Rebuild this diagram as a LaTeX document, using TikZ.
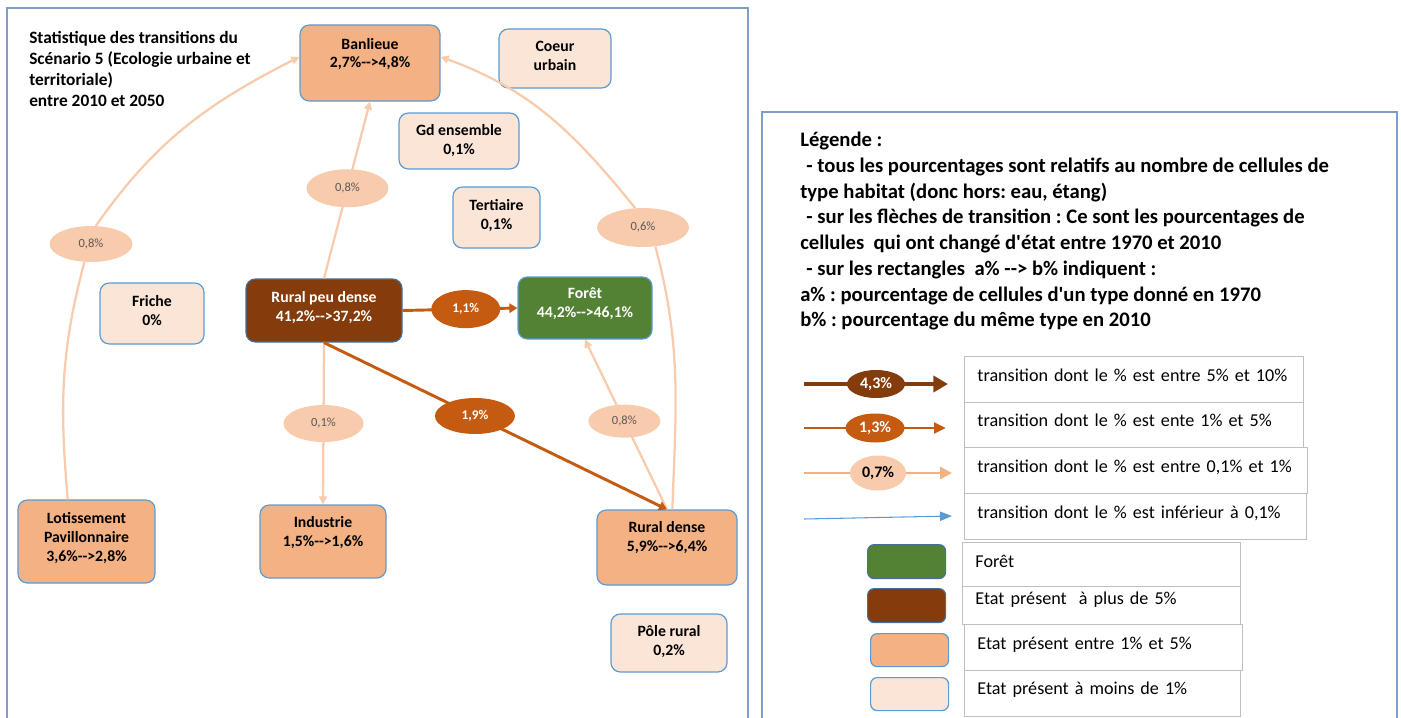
\documentclass[tikz,border=0pt]{standalone}
\usepackage{fontspec}
\setmainfont{Carlito}[Ligatures=TeXOff]
\usetikzlibrary{shapes.geometric,arrows.meta}
\frenchspacing

\definecolor{brownD}{HTML}{843C0C}
\definecolor{orangeD}{HTML}{C55A11}
\definecolor{orangeL}{HTML}{F4B183}
\definecolor{orangeXL}{HTML}{FBE5D6}
\definecolor{peach}{HTML}{F8CBAD}
\definecolor{greenF}{HTML}{548235}
\definecolor{edgeB}{HTML}{5B9BD5}
\definecolor{edgeD}{HTML}{41719C}
\definecolor{frameB}{HTML}{7F9DC6}
\definecolor{rowG}{HTML}{BFBFBF}

\tikzset{
  statebox/.style={rectangle, rounded corners=7pt, draw=edgeB, line width=0.9pt, inner sep=0pt},
  statetxt/.style={font=\bfseries\fontsize{11.8}{13.9}\selectfont, align=center, inner sep=0pt},
  pct/.style={ellipse, inner sep=0pt, fill=peach, text=black!65, font=\fontsize{9.4}{10}\selectfont},
  pctdark/.style={ellipse, inner sep=0pt, fill=orangeD, text=white, font=\bfseries\fontsize{10}{11}\selectfont},
  lightlink/.style={draw=peach, line width=1.7pt},
  lightarr/.style={lightlink, -{Triangle[length=6pt,width=6pt]}},
  darkarr/.style={draw=orangeD, line width=2.2pt, -{Triangle[length=6pt,width=7pt]}},
  rowbox/.style={draw=rowG, line width=0.7pt, anchor=north west, inner xsep=9.75pt, inner ysep=0pt, align=left, font=\fontsize{13.6}{15}\selectfont},
  swatch/.style={rectangle, rounded corners=5pt, line width=0.9pt, anchor=north west, inner sep=0pt, minimum width=58.5pt},
}

\begin{document}
\begin{tikzpicture}[x=0.75pt,y=0.75pt]
\useasboundingbox (0,0) rectangle (1401,-717);
\draw[frameB, line width=1pt] (7,-720) |- (748,-8) -- (748,-720);
\draw[frameB, line width=1pt] (762,-720) |- (1397,-112) -- (1397,-720);

\node[statetxt, anchor=north west, align=left, font=\bfseries\fontsize{13}{15.75}\selectfont] (title) at (29,-31)
  {Statistique des transitions du\\Scénario 5 (Ecologie urbaine et\\territoriale)\\entre 2010 et 2050};

\node[statebox, fill=orangeL, minimum width=105pt, minimum height=57pt] (ban) at (370,-63) {};
\node[statetxt] (banT) at (370,-54) {Banlieue\\2,7\%-->4,8\%};
\node[statebox, fill=orangeXL, minimum width=84pt, minimum height=44.25pt] (coeur) at (555,-58.5) {};
\node[statetxt] (coeurT) at (555,-56) {Coeur\\urbain};
\node[statebox, fill=orangeXL, minimum width=90pt, minimum height=42pt] (gd) at (459,-141) {};
\node[statetxt] (gdT) at (459,-140.5) {Gd ensemble\\0,1\%};
\node[statebox, fill=orangeXL, minimum width=65.25pt, minimum height=45.75pt] (tert) at (496.5,-217.5) {};
\node[statetxt] (tertT) at (496.5,-215.5) {Tertiaire\\0,1\%};
\node[statebox, fill=orangeXL, minimum width=78pt, minimum height=45.75pt] (friche) at (152,-313.5) {};
\node[statetxt] (fricheT) at (152,-310.5) {Friche\\0\%};
\node[statebox, fill=brownD, draw=edgeD, minimum width=117pt, minimum height=47.25pt] (rpd) at (324,-310.5) {};
\node[statetxt, text=white] (rpdT) at (324,-307.5) {Rural peu dense\\41,2\%-->37,2\%};
\node[statebox, fill=greenF, minimum width=100.5pt, minimum height=46.5pt] (foret) at (585,-308) {};
\node[statetxt, text=white] (foretT) at (585,-303.5) {Forêt\\44,2\%-->46,1\%};
\node[statebox, fill=orangeL, minimum width=102.75pt, minimum height=62.25pt] (lot) at (86.5,-541.5) {};
\node[statetxt] (lotT) at (86.5,-538) {Lotissement\\Pavillonnaire\\3,6\%-->2,8\%};
\node[statebox, fill=orangeL, minimum width=94.5pt, minimum height=54.75pt] (ind) at (323,-541.5) {};
\node[statetxt] (indT) at (323,-532.5) {Industrie\\1,5\%-->1,6\%};
\node[statebox, fill=orangeL, minimum width=105pt, minimum height=56.25pt] (rd) at (667,-547.5) {};
\node[statetxt] (rdT) at (667,-537.5) {Rural dense\\5,9\%-->6,4\%};
\node[statebox, fill=orangeXL, minimum width=87pt, minimum height=43.5pt] (pole) at (669,-643) {};
\node[statetxt] (poleT) at (669,-641.5) {Pôle rural\\0,2\%};

\node[pct, minimum width=62.25pt, minimum height=27pt] (eLot) at (91,-244) {0,8\%};
\draw[lightlink] (lot.114) to[out=95,in=255] (eLot.250);
\draw[lightarr] (eLot.75) to[out=55,in=207] (ban.175);

\node[pct, minimum width=69pt, minimum height=29.25pt] (eRd) at (643,-227.5) {0,6\%};
\draw[lightlink] (rd.82) to[out=88,in=-75] (eRd.-57);
\draw[lightarr] (eRd.112) to[out=129,in=-20] (ban.5);

\draw[lightarr] (rpd.north) -- node[pct, pos=0.51, minimum width=61.5pt, minimum height=28.5pt] (eBan) {0,8\%} (ban.south);
\draw[lightarr] (rpd.south) -- node[pct, pos=0.5, minimum width=60pt, minimum height=27.75pt] (eInd) {0,1\%} (ind.north);
\draw[lightarr] (rd.north) -- node[pct, pos=0.52, minimum width=54pt, minimum height=24.75pt] (eFor) {0,8\%} (foret.south);
\draw[darkarr] (rpd.east) -- node[pctdark, pos=0.55, minimum width=51.75pt, minimum height=28.5pt] (eRpd) {1,1\%} (foret.west);
\draw[darkarr] (rpd.south) -- node[pctdark, pos=0.44, minimum width=60pt, minimum height=27pt] (eDen) {1,9\%} (rd.north);

\node[anchor=north west, align=left, inner sep=0pt, font=\bfseries\fontsize{15.5}{19.3}\selectfont] (leg) at (800,-132)
  {Légende :\\
   \hspace*{.3em}- tous les pourcentages sont relatifs au nombre de cellules de\\
   type habitat (donc hors: eau, étang)\\
   \hspace*{.3em}- sur les flèches de transition : Ce sont les pourcentages de\\
   cellules\ \ qui ont changé d'état entre 1970 et 2010\\
   \hspace*{.3em}- sur les rectangles\ \ a\% --> b\% indiquent :\\
   a\% : pourcentage de cellules d'un type donné en 1970\\
   b\% : pourcentage du même type en 2010};

\coordinate (a1s) at (804,-384); \coordinate (a1e) at (948,-384);
\coordinate (a2s) at (804,-428); \coordinate (a2e) at (946,-428);
\coordinate (a3s) at (804,-473); \coordinate (a3e) at (952,-473);
\coordinate (a4s) at (804,-519); \coordinate (a4e) at (952,-516);
\draw[draw=brownD, line width=3pt, -{Triangle[length=11pt,width=12pt]}] (a1s) -- node[ellipse, inner sep=0pt, fill=brownD, text=white, font=\bfseries\fontsize{12}{13}\selectfont, minimum width=43.5pt, minimum height=21pt] (k43) {4,3\%} (a1e);
\draw[draw=orangeD, line width=2.2pt, -{Triangle[length=9pt,width=8pt]}] (a2s) -- node[ellipse, inner sep=0pt, fill=orangeD, text=white, font=\bfseries\fontsize{12}{13}\selectfont, minimum width=44.25pt, minimum height=21.75pt] (k13) {1,3\%} (a2e);
\draw[draw=orangeL, line width=2.2pt, -{Triangle[length=9pt,width=9pt]}] (a3s) -- node[ellipse, inner sep=0pt, fill=peach, font=\bfseries\fontsize{12}{13}\selectfont, minimum width=42pt, minimum height=26.25pt] (k07) {0,7\%} (a3e);
\draw[draw=edgeB, line width=0.8pt, -{Triangle[length=9pt,width=7pt]}] (a4s) -- (a4e);

\node[rowbox, text width=234.75pt, text height=18.75pt, text depth=15.75pt] (r1) at (964,-356) {transition dont le \% est entre 5\% et 10\%};
\node[rowbox, text width=234.75pt, text height=18pt, text depth=15.75pt] (r2) at (964,-402) {transition dont le \% est ente 1\% et 5\%};
\node[rowbox, text width=237.75pt, text height=18.75pt, text depth=15.75pt] (r3) at (964,-447) {transition dont le \% est entre 0,1\% et 1\%};
\node[rowbox, text width=237pt, text height=18.75pt, text depth=15.75pt] (r4) at (964,-493) {transition dont le \% est inférieur à 0,1\%};
\node[rowbox, text width=189pt, text height=18.75pt, text depth=14.25pt] (r5) at (962,-542) {Forêt};
\node[rowbox, text width=189pt, text height=13.5pt, text depth=15pt] (r6) at (962,-586) {Etat présent\ \ à plus de 5\%};
\node[rowbox, text width=189pt, text height=18.75pt, text depth=15.75pt] (r7) at (964,-624) {Etat présent entre 1\% et 5\%};
\node[rowbox, text width=187.5pt, text height=18pt, text depth=16.5pt] (r8) at (964,-670) {Etat présent à moins de 1\%};

\node[swatch, fill=greenF, draw=edgeD, minimum height=25.5pt] (sw1) at (867,-544) {};
\node[swatch, fill=brownD, draw=edgeD, minimum height=25.5pt] (sw2) at (867,-588) {};
\node[swatch, fill=orangeL, draw=edgeB, minimum height=24.75pt] (sw3) at (870,-633) {};
\node[swatch, fill=orangeXL, draw=edgeB, minimum height=24.75pt] (sw4) at (870,-677) {};
\end{tikzpicture}
\end{document}
